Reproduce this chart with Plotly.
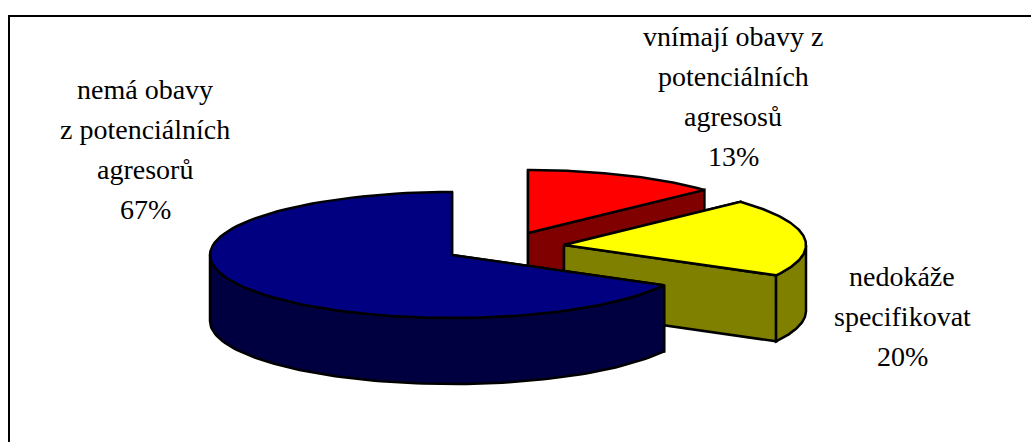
import numpy as np
import plotly.graph_objects as go

# share of answers, clockwise from 12 o'clock
slice_names = ["vnímají obavy", "nedokáže specifikovat", "nemá obavy"]
slice_values = [13, 20, 67]
top_colors = ["#ff0000", "#ffff00", "#000080"]
cut_colors = ["#800000", "#808000", "#000040"]

label_lines = [
    ["vnímají obavy z", "potenciálních", "agresosů", "13%"],
    ["nedokáže", "specifikovat", "20%"],
    ["nemá obavy", "z potenciálních", "agresorů", "67%"],
]

# pie apex of each slice in pixels (exploded), first line of its label, line step
apex_x = [528, 564, 452]
apex_y = [233, 245, 255]
label_x = [733, 902, 145]
label_y = [36, 276, 89]
label_step = [40, 40, 40]

RX = 242
RY = 63
DEPTH = 66


def rim(cx, cy, a0, a1, drop=0):
    t = np.radians(np.linspace(a0, a1, 90))
    return cx + RX * np.sin(t), cy - RY * np.cos(t) + drop


def poly(xs, ys, color):
    return go.Scatter(x=list(xs) + [xs[0]], y=list(ys) + [ys[0]], mode="lines", fill="toself",
                      fillcolor=color, line=dict(color="black", width=2.5),
                      hoverinfo="skip", showlegend=False)


def cut_face(cx, cy, a, color):
    x, y = rim(cx, cy, a, a)
    return poly([cx, x[0], x[0], cx], [cy, y[0], y[0] + DEPTH, cy + DEPTH], color)


fig = go.Figure()

total = sum(slice_values)
start = 0
for i, v in enumerate(slice_values):
    end = start + 360 * v / total
    cx, cy = apex_x[i], apex_y[i]

    fig.add_trace(cut_face(cx, cy, start, cut_colors[i]))
    fig.add_trace(cut_face(cx, cy, end, cut_colors[i]))

    # outer wall, only the part facing the viewer
    a0, a1 = max(start, 90), min(end, 270)
    if a1 > a0:
        x, y = rim(cx, cy, a0, a1)
        fig.add_trace(poly(np.r_[x, x[::-1]], np.r_[y, y[::-1] + DEPTH], cut_colors[i]))

    x, y = rim(cx, cy, start, end)
    fig.add_trace(poly(np.r_[cx, x], np.r_[cy, y], top_colors[i]))
    start = end

for i, lines in enumerate(label_lines):
    for j, line in enumerate(lines):
        fig.add_annotation(x=label_x[i], y=label_y[i] + j * label_step[i], text=line, showarrow=False,
                           xanchor="center", yanchor="middle",
                           font=dict(family="Liberation Serif", size=28, color="black"))

# only the top and left edges of the chart frame are in the crop
fig.add_shape(type="line", x0=9, x1=1031, y0=16, y1=16, line=dict(color="black", width=2))
fig.add_shape(type="line", x0=9, x1=9, y0=15, y1=442, line=dict(color="black", width=2))

fig.update_xaxes(range=[0, 1031], visible=False)
fig.update_yaxes(range=[442, 0], visible=False)
fig.update_layout(width=1031, height=442, margin=dict(l=0, r=0, t=0, b=0),
                  paper_bgcolor="white", plot_bgcolor="white", showlegend=False)

# drop the page's default body margin so the plot sits at 0,0
fig.write_html("out.html", config={"displayModeBar": False},
               post_script="document.body.style.margin='0';")
